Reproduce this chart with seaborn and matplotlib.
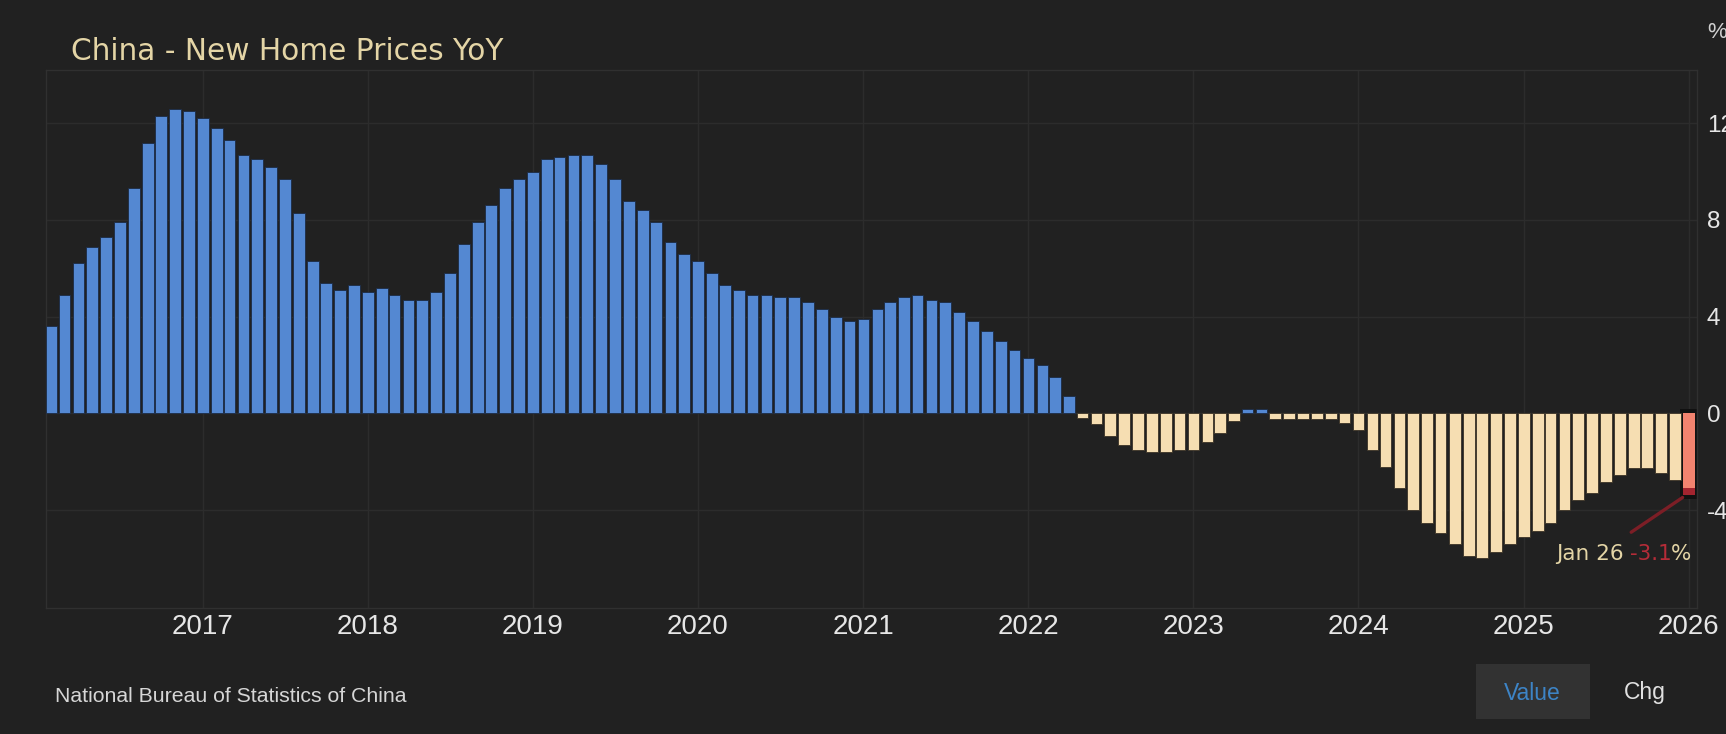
import numpy as np
import pandas as pd
import matplotlib
matplotlib.use("Agg")
import matplotlib.pyplot as plt
import matplotlib.dates as mdates
from matplotlib.patches import Rectangle
import seaborn as sns

# ---- data -------------------------------------------------------------
title = "China - New Home Prices YoY"
source = "National Bureau of Statistics of China"
first_month = "2016-02-01"
# year-on-year change of new home prices, % (monthly, Feb 2016 - Jan 2026)
yoy = [
    3.6, 4.9, 6.2, 6.9, 7.3, 7.9, 9.3, 11.2, 12.3, 12.6, 12.5,            # 2016
    12.2, 11.8, 11.3, 10.7, 10.5, 10.2, 9.7, 8.3, 6.3, 5.4, 5.1, 5.3,     # 2017
    5.0, 5.2, 4.9, 4.7, 4.7, 5.0, 5.8, 7.0, 7.9, 8.6, 9.3, 9.7,           # 2018
    10.0, 10.5, 10.6, 10.7, 10.7, 10.3, 9.7, 8.8, 8.4, 7.9, 7.1, 6.6,     # 2019
    6.3, 5.8, 5.3, 5.1, 4.9, 4.9, 4.8, 4.8, 4.6, 4.3, 4.0, 3.8,           # 2020
    3.9, 4.3, 4.6, 4.8, 4.9, 4.7, 4.6, 4.2, 3.8, 3.4, 3.0, 2.6,           # 2021
    2.3, 2.0, 1.5, 0.7, -0.2, -0.45, -0.95, -1.3, -1.5, -1.6, -1.6, -1.5, # 2022
    -1.5, -1.2, -0.8, -0.3, 0.2, 0.2, -0.25, -0.25, -0.25, -0.25, -0.25, -0.4,  # 2023
    -0.7, -1.5, -2.2, -3.1, -4.0, -4.55, -4.95, -5.4, -5.9, -6.0, -5.75, -5.4,  # 2024
    -5.1, -4.85, -4.55, -4.0, -3.6, -3.3, -2.85, -2.55, -2.25, -2.25, -2.45, -2.75,  # 2025
    -3.1,                                                                 # 2026
]
year_ticks = [2017, 2018, 2019, 2020, 2021, 2022, 2023, 2024, 2025, 2026]
y_ticks = [12, 8, 4, 0, -4]
last_label = "Jan 26"

# ---- style ------------------------------------------------------------
BG = "#212121"
GRID = "#2c2c2c"
BLUE = "#5488d2"
BLUE_EDGE = "#1b2b44"
BEIGE = "#f6deb2"
BEIGE_EDGE = "#3a3226"
SALMON = "#f2836f"
DARK_RED = "#a3242f"
TICK = "#e6e6e6"
KHAKI = "#e4d5a6"

W, H = 1726, 734
sns.set_theme(style="dark", rc={
    "figure.facecolor": BG,
    "axes.facecolor": BG,
    "axes.edgecolor": "#333333",
    "savefig.facecolor": BG,
})
plt.rcParams["font.family"] = ["Liberation Sans", "DejaVu Sans"]

months = pd.date_range(first_month, periods=len(yoy), freq="MS")
df = pd.DataFrame({
    "month": months.strftime("%Y-%m"),
    "x": mdates.date2num(months),
    "yoy": yoy,
})
palette = {m: (BLUE if v > 0 else BEIGE) for m, v in zip(df["month"], df["yoy"])}
palette[df["month"].iloc[-1]] = SALMON

fig = plt.figure(figsize=(W / 100, H / 100), dpi=100)
ax = fig.add_axes([46 / W, 1 - 608 / H, (1697 - 46) / W, (608 - 70) / H])
ax.set_facecolor(BG)

sns.barplot(data=df, x="x", y="yoy", hue="month", palette=palette,
            native_scale=True, dodge=False, width=0.92, saturation=1,
            legend=False, ax=ax, zorder=3)

# per-sign bar outlines, and find the latest bar
last_patch = None
for p in ax.patches:
    h = p.get_height()
    if h >= 0:
        p.set_edgecolor(BLUE_EDGE)
    else:
        p.set_edgecolor(BEIGE_EDGE)
    p.set_linewidth(0.6)
    if last_patch is None or p.get_x() > last_patch.get_x():
        last_patch = p

# highlight of the latest reading
last_val = yoy[-1]
x0, w = last_patch.get_x(), last_patch.get_width()
last_patch.set_edgecolor("none")
pad_x = 6.5
ax.add_patch(Rectangle((x0 - pad_x, last_val - 0.45), w + 2 * pad_x,
                       0.65 - last_val, facecolor="#111111", edgecolor="none",
                       zorder=2.5))
ax.add_patch(Rectangle((x0, last_val - 0.28), w, 0.28, facecolor=DARK_RED,
                       edgecolor="none", zorder=3.5))

# axes scales
ax.set_xlim(mdates.date2num(pd.Timestamp("2016-01-20")),
            mdates.date2num(pd.Timestamp("2026-01-19")))
ax.set_ylim(-8.05, 14.2)
ax.set_xticks(mdates.date2num(pd.to_datetime([f"{y}-01-01" for y in year_ticks])))
ax.set_xticklabels([str(y) for y in year_ticks])
ax.set_yticks(y_ticks)
ax.set_yticklabels([str(v) for v in y_ticks])
ax.set_xlabel("")
ax.set_ylabel("")
ax.yaxis.tick_right()
ax.tick_params(axis="y", length=0, pad=7, labelsize=17.5, labelcolor=TICK)
ax.tick_params(axis="x", length=0, pad=4, labelsize=20, labelcolor=TICK)
for lbl in ax.get_yticklabels():
    lbl.set_horizontalalignment("left")

ax.grid(True, axis="both", color=GRID, linewidth=1, zorder=0)
ax.set_axisbelow(True)
for s in ax.spines.values():
    s.set_visible(True)
    s.set_color("#303030")
    s.set_linewidth(1)

# callout for the latest value
ax.annotate("", xy=(x0 - 1, last_val - 0.38), xytext=(-37, -25),
            textcoords="offset points",
            arrowprops=dict(arrowstyle="-", color="#7c1e26", lw=2.4,
                            shrinkA=0, shrinkB=0), zorder=4)
t_pct = ax.annotate("%", xy=(x0 + w / 2, -5.8), xytext=(2, 0),
                    textcoords="offset points", ha="right", va="center",
                    color=KHAKI, fontsize=15.5, family=["DejaVu Sans"])
t_val = ax.annotate(f"{last_val:.1f}", xy=(0, 0.5),
                    xycoords=t_pct, ha="right", va="center",
                    color="#b52c38", fontsize=15.5, family=["DejaVu Sans"])
ax.annotate(last_label, xy=(0, 0.5), xycoords=t_val, xytext=(-4, 0),
            textcoords="offset points", ha="right", va="center",
            color=KHAKI, fontsize=15.5, family=["DejaVu Sans"])

# header, unit, footer
fig.text(71 / W, 1 - 52 / H, title, ha="left", va="center", color=KHAKI,
         fontsize=21.3, family=["DejaVu Sans"])
fig.text(1707 / W, 1 - 33 / H, "%", ha="left", va="center", color="#cfcfcf",
         fontsize=16)
fig.text(55 / W, 1 - 697 / H, source, ha="left", va="center", color="#d6d6d6",
         fontsize=15.3)

# value / change toggle
fig.patches.append(Rectangle((1476 / W, 1 - 719 / H), 114 / W, 55 / H,
                             transform=fig.transFigure, facecolor="#323232",
                             edgecolor="none"))
fig.text(1532 / W, 1 - 693 / H, "Value", ha="center", va="center",
         color="#3d84c6", fontsize=16.5)
fig.text(1645 / W, 1 - 693 / H, "Chg", ha="center", va="center",
         color="#e0e0e0", fontsize=16.5)

fig.savefig("out.png", dpi=100, facecolor=BG)
